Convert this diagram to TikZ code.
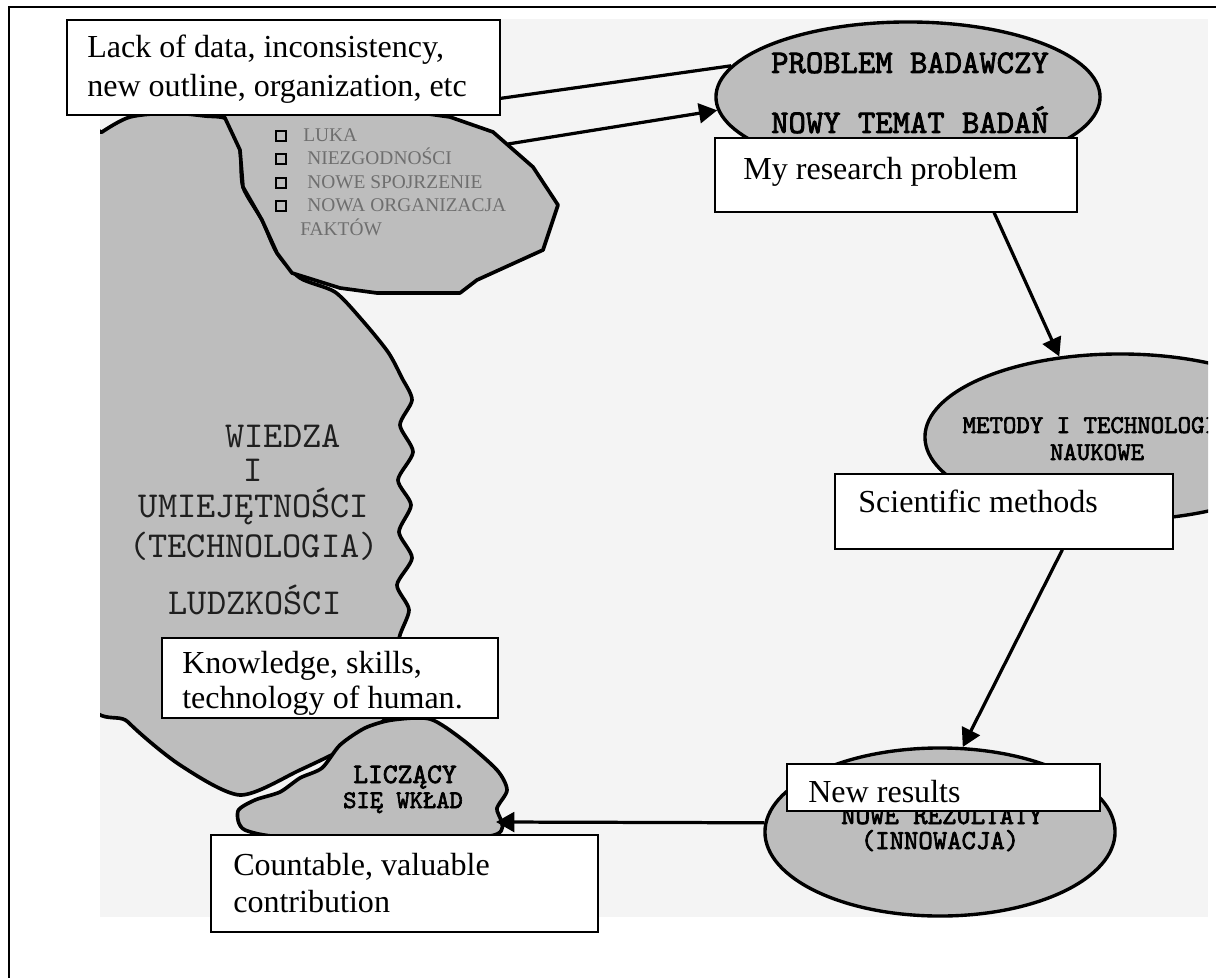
\documentclass[tikz,border=0pt]{standalone}
\usepackage{fontspec}
\setmainfont{Liberation Serif}
\newfontfamily\typefont{lmmono10-regular.otf}
\newfontfamily\typeboldfont[FakeBold=2.5]{lmmono10-regular.otf}
\usetikzlibrary{shapes.geometric,arrows.meta,calc,fit}

\definecolor{paper}{HTML}{F4F4F4}
\definecolor{blobgray}{HTML}{BDBDBD}
\definecolor{faint}{HTML}{6E6E6E}

\begin{document}
\begin{tikzpicture}[x=0.025cm,y=-0.025cm,
  box/.style={draw=black, line width=1pt, fill=white, inner sep=0pt},
  caption/.style={font=\fontsize{22.8}{28}\selectfont, anchor=base west, inner sep=0pt},
  blob/.style={fill=blobgray, draw=black, line width=2.6pt, line join=round},
  oval/.style={ellipse, fill=blobgray, draw=black, line width=2.4pt, inner sep=0pt},
  flow/.style={line width=2.3pt},
  arrowflow/.style={flow, -{Triangle[length=13pt,width=14pt]}},
  tag/.style={font=\typeboldfont\fontsize{#1}{#1}\selectfont, anchor=base, inner sep=0pt},
  bigtext/.style={font=\typefont\fontsize{26}{26}\selectfont, anchor=base, inner sep=0pt, text=black!88},
  item/.style={font=\fontsize{13.8}{14}\selectfont, anchor=base west, inner sep=0pt, text=faint},
  bullet/.style={draw=black, line width=1.1pt, minimum size=7pt, inner sep=0pt}
]
\useasboundingbox (0,0) rectangle (1216,978);

% outer frame
\draw[line width=1.4pt] (9,978) -- (9,7) -- (1216,7);

% pasted figure background
\fill[paper] (100,19) rectangle (1208,917);

\begin{scope}
  \clip (100,19) rectangle (1208,917);

  % knowledge of mankind
  \draw[blob] plot[smooth cycle, tension=0.45] coordinates {
    (80,150) (102,132) (130,117) (170,113) (205,116) (228,120) (240,150)
    (243,187) (262,220) (277,253) (300,278) (335,292) (362,320) (388,352)
    (402,378) (412,400) (400,425) (413,452) (398,480) (411,505) (399,532)
    (412,558) (397,585) (409,610) (399,640) (411,665) (403,690) (392,712)
    (360,740) (300,770) (240,795) (180,765) (128,722) (80,665)};

  % gaps in knowledge
  \draw[blob] (210,100) -- (225,118) -- (240,150) -- (243,187) -- (262,220)
    -- (277,253) -- (292,273) -- (340,288) -- (377,293) -- (460,293)
    -- (477,280) -- (543,250) -- (558,205) -- (533,167) -- (493,132)
    -- (450,117) -- (400,110) -- cycle;
  \coordinate (lukaout) at (508,144);

  % countable contribution
  \draw[blob] plot[smooth cycle, tension=0.45] coordinates {
    (238,811) (255,800) (280,792) (300,778) (322,768) (340,745) (365,728)
    (392,720) (430,719) (463,740) (497,770) (507,790) (497,808) (490,836)
    (300,838) (245,830)};
  \coordinate (liczin) at (496,822);

  % ellipses
  \node[oval, minimum width=9.6cm, minimum height=3.75cm] (prob) at (908,97) {};
  \node[oval, minimum width=9.75cm, minimum height=4.15cm] (met) at (1120,437) {};
  \node[oval, minimum width=8.75cm, minimum height=4.2cm] (nr) at (940,832) {};

  \node[tag=23.5] (probA) at (910,73) {PROBLEM BADAWCZY};
  \node[tag=23.5] (probB) at (910,133) {NOWY TEMAT BADAŃ};
  \node[tag=18.2] (metA) at (1097,433) {METODY I TECHNOLOGIE};
  \node[tag=18.2] (metB) at (1097,460) {NAUKOWE};
  \node[tag=19.5] (nrA) at (942,824) {NOWE REZULTATY};
  \node[tag=19.5] (nrB) at (940,849) {(INNOWACJA)};
  \node[tag=20] (liA) at (405,783) {LICZĄCY};
  \node[tag=18] (liB) at (403,808) {SIĘ WKŁAD};

  % knowledge text
  \node[bigtext] (w1) at (283,447) {WIEDZA};
  \node[bigtext] (w2) at (253,481) {I};
  \node[bigtext] (w3) at (254,517) {UMIEJĘTNOŚCI};
  \node[bigtext] (w4) at (254,557) {(TECHNOLOGIA)};
  \node[bigtext] (w5) at (255,614) {LUDZKOŚCI};

  % list of gaps
  \node[bullet] (b1) at (281,136) {};
  \node[bullet] (b2) at (281,159) {};
  \node[bullet] (b3) at (281,183) {};
  \node[bullet] (b4) at (281,206) {};
  \node[item] (i1) at (303,142) {LUKA};
  \node[item] (i2) at (307,165) {NIEZGODNOŚCI};
  \node[item] (i3) at (307,189) {NOWE SPOJRZENIE};
  \node[item] (i4) at (307,212) {NOWA ORGANIZACJA};
  \node[item] (i5) at (300,236) {FAKTÓW};
\end{scope}

% English captions
\node[box, fit={(67,20) (500,115)}] (lack) {};
\node[caption] (lackA) at (87,58) {Lack of data, inconsistency,};
\node[caption] (lackB) at (87,97) {new outline, organization, etc};

\node[box, fit={(715,138) (1077,212)}] (rp) {};
\node[caption] (rpA) at (743,180) {My research problem};

\node[box, fit={(835,474) (1173,549)}] (sm) {};
\node[caption] (smA) at (858,512) {Scientific methods};

\node[box, fit={(162,638) (498,718)}] (kn) {};
\node[caption] (knA) at (182,673) {Knowledge, skills,};
\node[caption] (knB) at (182,708) {technology of human.};

\node[box, fit={(787,764) (1100,811)}] (nres) {};
\node[caption] (nresA) at (808,802) {New results};

\node[box, fit={(211,835) (598,932)}] (cnt) {};
\node[caption] (cntA) at (233,875) {Countable, valuable};
\node[caption] (cntB) at (233,912) {contribution};

% connectors
\coordinate (lackout) at ($(lack.south east)!0.18!(lack.north east)$);
\coordinate (rpout) at ($(rp.south west)!0.77!(rp.south east)$);
\coordinate (smout) at ($(sm.south west)!0.672!(sm.south east)$);
\draw[flow] (lackout) -- (prob.170);
\draw[arrowflow] (lukaout) -- (prob.184);
\draw[arrowflow] (rpout) -- (met.127);
\draw[arrowflow] (smout) -- (nr.75);
\draw[arrowflow] (nr.177) -- (liczin);
\end{tikzpicture}
\end{document}
